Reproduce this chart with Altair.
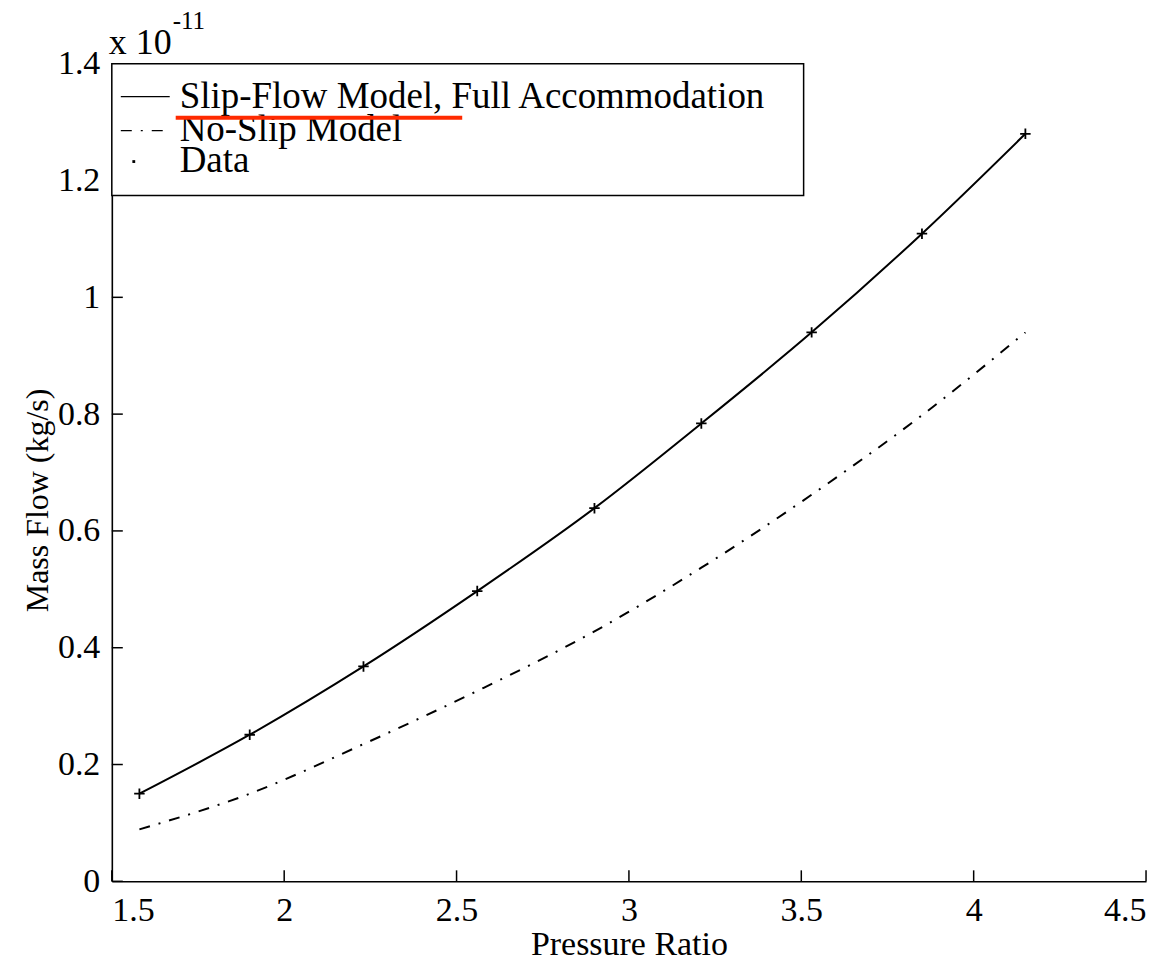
import altair as alt
import pandas as pd

# ---- data (y in units of 1e-11 kg/s) ----
pressure_ratio = [1.58, 1.90, 2.23, 2.56, 2.90, 3.21, 3.53, 3.85, 4.15]
slip_flow = [0.150, 0.251, 0.368, 0.497, 0.639, 0.784, 0.940, 1.109, 1.280]
no_slip = [0.089, 0.150, 0.235, 0.326, 0.428, 0.537, 0.662, 0.798, 0.940]
data_flow = [0.150, 0.251, 0.368, 0.497, 0.639, 0.784, 0.940, 1.109, 1.280]

x_ticks = [1.5, 2, 2.5, 3, 3.5, 4, 4.5]
y_ticks = [0, 0.2, 0.4, 0.6, 0.8, 1.0, 1.2, 1.4]

legend_labels = ["Slip-Flow Model, Full Accommodation", "No-Slip Model", "Data"]

W, H = 1036, 819
FONT = "Liberation Serif"

df = pd.DataFrame({"pr": pressure_ratio, "slip": slip_flow,
                   "noslip": no_slip, "data": data_flow})
xt = pd.DataFrame({"v": x_ticks})
yt = pd.DataFrame({"v": y_ticks})
one = pd.DataFrame({"k": [0]})

xscale = alt.Scale(domain=[1.5, 4.5], nice=False, zero=False)
yscale = alt.Scale(domain=[0, 1.4], nice=False)

xaxis = alt.Axis(values=x_ticks, format="~g", ticks=False, grid=False,
                 labelFont=FONT, labelFontSize=34, labelColor="black",
                 labelPadding=12, domainColor="black", domainWidth=1.6,
                 title="Pressure Ratio", titleFont=FONT, titleFontSize=34,
                 titleFontWeight="normal", titleColor="black", titlePadding=0)
yaxis = alt.Axis(values=y_ticks, format="~g", ticks=False, grid=False,
                 labelFont=FONT, labelFontSize=34, labelColor="black",
                 labelPadding=12, domainColor="black", domainWidth=1.6,
                 title="Mass Flow (kg/s)", titleFont=FONT, titleFontSize=32,
                 titleFontWeight="normal", titleColor="black",
                 titleX=-74, titleY=437, titleAngle=-90,
                 titleAlign="center", titleBaseline="middle")

base = alt.Chart(df)

slip_line = base.mark_line(color="black", strokeWidth=2, interpolate="monotone").encode(
    x=alt.X("pr:Q", scale=xscale, axis=xaxis),
    y=alt.Y("slip:Q", scale=yscale, axis=yaxis),
)
noslip_line = base.mark_line(color="black", strokeWidth=2, interpolate="monotone",
                             strokeDash=[11, 9, 2, 9]).encode(
    x=alt.X("pr:Q", scale=xscale),
    y=alt.Y("noslip:Q", scale=yscale),
)
points = base.mark_point(shape="M-1,0L1,0M0,-1L0,1", size=110, filled=False,
                         color="black", strokeWidth=1.8, opacity=1).encode(
    x=alt.X("pr:Q", scale=xscale),
    y=alt.Y("data:Q", scale=yscale),
)

# inward ticks
x_tick_marks = alt.Chart(xt).mark_rule(color="black", strokeWidth=1.5).encode(
    x=alt.X("v:Q", scale=xscale), y=alt.value(H), y2=alt.value(H - 11))
y_tick_marks = alt.Chart(yt).mark_rule(color="black", strokeWidth=1.5).encode(
    y=alt.Y("v:Q", scale=yscale), x=alt.value(0), x2=alt.value(11))

# exponent label
exp_base = alt.Chart(one).mark_text(text="x 10", font=FONT, fontSize=36, align="left",
                                    baseline="alphabetic", color="black").encode(
    x=alt.value(-3), y=alt.value(-10))
exp_pow = alt.Chart(one).mark_text(text="-11", font=FONT, fontSize=25, align="left",
                                   baseline="alphabetic", color="black").encode(
    x=alt.value(61), y=alt.value(-35))

# legend box
leg_box = alt.Chart(one).mark_rect(fill="white", stroke="black", strokeWidth=1.5).encode(
    x=alt.value(0), x2=alt.value(693), y=alt.value(0), y2=alt.value(132))
leg_l1 = alt.Chart(one).mark_rule(color="black", strokeWidth=1.2).encode(
    x=alt.value(9), x2=alt.value(58), y=alt.value(33))
leg_l2 = alt.Chart(one).mark_rule(color="black", strokeWidth=1.2,
                                  strokeDash=[11, 9, 2, 9]).encode(
    x=alt.value(9), x2=alt.value(58), y=alt.value(67))
leg_l3 = alt.Chart(one).mark_point(shape="square", size=8, filled=True, color="black",
                                   opacity=1).encode(
    x=alt.value(22), y=alt.value(98))
leg_texts = []
for lab, yy in zip(legend_labels, [33, 66, 97]):
    leg_texts.append(alt.Chart(one).mark_text(text=lab, font=FONT, fontSize=37,
                                              align="left", baseline="middle",
                                              color="black").encode(
        x=alt.value(68), y=alt.value(yy)))
red_mark = alt.Chart(one).mark_rule(color="#ff2a00", strokeWidth=4).encode(
    x=alt.value(64), x2=alt.value(351), y=alt.value(54))

chart = alt.layer(
    slip_line, noslip_line, points, x_tick_marks, y_tick_marks,
    leg_box, leg_l1, leg_l2, leg_l3, *leg_texts, red_mark,
    exp_base, exp_pow,
).properties(
    width=W, height=H,
    autosize=alt.AutoSizeParams(type="none"),
    padding={"left": 104, "top": 55, "right": 20, "bottom": 79},
).configure(background="white").configure_view(stroke="transparent", strokeWidth=0)

chart.save("out.html", embed_options={"renderer": "svg", "actions": False})
